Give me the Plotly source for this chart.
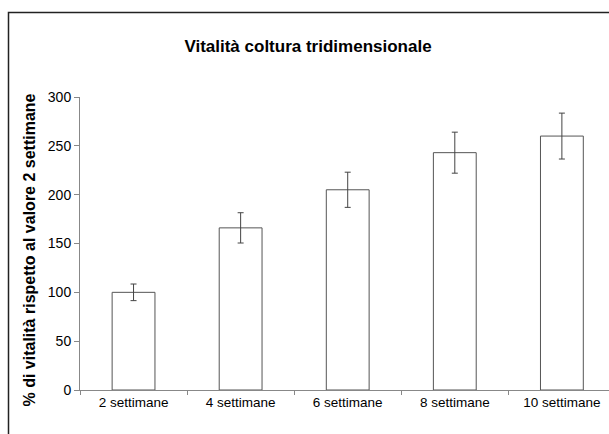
import plotly.graph_objects as go

categories = ["2 settimane", "4 settimane", "6 settimane", "8 settimane", "10 settimane"]
values = [100, 166, 205, 243, 260]
errors = [8.5, 15.5, 18, 21, 23.5]
y_ticks = [0, 50, 100, 150, 200, 250, 300]

fig = go.Figure()
fig.add_trace(go.Bar(
    x=categories, y=values, width=0.4,
    marker=dict(color="white", line=dict(color="#555555", width=1)),
    error_y=dict(type="data", array=errors, visible=True, color="#444444", thickness=1, width=3),
    hoverinfo="skip",
))

fig.update_layout(
    width=609, height=434,
    margin=dict(l=80, r=0, t=97, b=44),
    paper_bgcolor="white", plot_bgcolor="white",
    showlegend=False,
    title=dict(text="<b>Vitalità coltura tridimensionale</b>", x=308/609, xanchor="center",
               y=1 - 46/434, yanchor="middle",
               font=dict(family="Liberation Sans, Arial", size=17, color="black")),
    font=dict(family="Liberation Sans, Arial", size=13, color="black"),
)
fig.update_xaxes(
    type="category", range=[-0.5, 4.44], showline=True, linecolor="#888888", linewidth=1,
    ticks="outside", tickson="boundaries", ticklen=4, tickcolor="#888888",
    showgrid=False, zeroline=False, tickfont=dict(size=13.5),
)
fig.update_yaxes(
    range=[0, 300], tickvals=y_ticks, showline=True, linecolor="#888888", linewidth=1,
    ticks="outside", ticklen=5, tickcolor="#888888", showgrid=False, zeroline=False,
    tickfont=dict(size=14),
)
fig.add_annotation(
    text="<b>% di vitalità rispetto al valore 2 settimane</b>", textangle=-90,
    xref="paper", yref="paper", x=(29 - 80) / 529, y=(390 - 250.5) / 293,
    xanchor="center", yanchor="middle", showarrow=False,
    font=dict(family="Liberation Sans, Arial", size=16, color="black"),
)
fig.add_shape(type="rect", xref="paper", yref="paper",
              x0=(8.5 - 80) / 529, x1=1.2, y0=-0.5, y1=(390 - 12.5) / 293,
              line=dict(color="#222222", width=1.5), fillcolor="rgba(0,0,0,0)", layer="above")

fig.write_html("out.html", config={"displayModeBar": False},
               post_script="document.body.style.margin='0';")
